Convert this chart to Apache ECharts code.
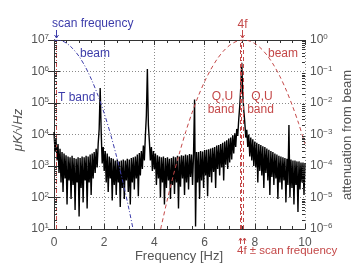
<!DOCTYPE html>
<html><head><meta charset="utf-8">
<script src="https://cdn.jsdelivr.net/npm/echarts@6/dist/echarts.min.js"></script>
<style>html,body{margin:0;padding:0;background:#fff}#c{width:360px;height:270px}</style>
</head><body><div id="c"></div>
<script>
// ---- data ----
const spectrumStartHz = 0;
const spectrumStepHz = 0.04;
const spectrumPsd = [
  12000, 3000, 7000, 1500, 5000, 600, 3500, 300, 2800, 150,
  2500, 400, 2200, 60, 2000, 350, 1900, 90, 2100, 250,
  1800, 40, 1700, 300, 1900, 25, 1800, 200, 2000, 70,
  1900, 350, 2100, 45, 2000, 300, 2300, 120, 2500, 400,
  2800, 600, 3500, 900, 5000, 15000, 300000, 12000, 1200, 4000,
  700, 3000, 300, 2500, 150, 2000, 400, 1800, 80, 1700,
  250, 1500, 120, 1600, 300, 1400, 50, 1500, 200, 1600,
  90, 1500, 350, 1700, 150, 1600, 60, 1800, 300, 1900,
  180, 2000, 400, 2300, 110, 2600, 500, 3000, 800, 4500,
  1500, 9000, 40000, 1200000, 20000, 6000, 1500, 4000, 700, 3000,
  800, 2500, 250, 2200, 400, 2000, 100, 1900, 300, 2000,
  60, 1800, 200, 1900, 350, 1700, 90, 1800, 250, 2000,
  130, 1900, 300, 2100, 45, 2000, 220, 2200, 400, 2100,
  120, 2300, 300, 2200, 180, 2400, 450, 2300, 250, 2500,
  130000, 12, 2800, 300, 2800, 90, 3000, 350, 2900, 200,
  3200, 500, 3300, 110, 3400, 450, 3600, 300, 3800, 650,
  4000, 200, 4500, 800, 4600, 500, 5000, 900, 5500, 350,
  6000, 1100, 6500, 800, 7500, 1300, 8000, 1600, 9500, 2500,
  11000, 4000, 15000, 9000, 30000, 80000, 300000, 1900000, 200000, 60000,
  25000, 8000, 14000, 4000, 10000, 2000, 8000, 1500, 7000, 1000,
  6000, 900, 5500, 300, 5000, 700, 4600, 500, 4200, 200,
  4000, 600, 3600, 350, 3300, 120, 3000, 450, 2800, 250,
  2500, 400, 2300, 90, 2100, 300, 2000, 180, 1900, 350,
  1800, 70, 1700, 250, 20000, 100, 1600, 200, 1500, 60,
  1500, 250, 1400, 35, 1400, 180, 1300, 300, 1300, 120, 1250
];
const beamTFreq  = [0, 0.25, 0.5, 0.75, 1.0, 1.25, 1.5, 1.75, 2.0, 2.25, 2.5, 2.75, 3.0, 3.25];
const beamTAtten = [0.985, 0.967, 0.79, 0.53, 0.30, 0.14, 0.054, 0.0175, 0.0047, 0.00104, 1.9e-4, 3.0e-5, 3.8e-6, 4.0e-7];
const beamQUFreq  = [4.25, 4.5, 4.75, 5.0, 5.25, 5.5, 5.75, 6.0, 6.25, 6.5, 6.75, 7.0, 7.25, 7.5, 7.75, 8.0, 8.25, 8.5, 8.75, 9.0, 9.25, 9.5, 9.75, 10.0];
const beamQUAtten = [1.0e-6, 7.6e-6, 4.9e-5, 2.6e-4, 1.23e-3, 4.9e-3, 0.0166, 0.048, 0.117, 0.248, 0.445, 0.682, 0.892, 0.997, 0.95, 0.774, 0.537, 0.319, 0.161, 0.0698, 0.0258, 0.0081, 0.0022, 5.0e-4];
const scanFreqHz = 0.07;
const fourFHz = 7.48;
const xTickLabels = ['0', '2', '4', '6', '8', '10'];

// ---- styling ----
const BLUE = '#3c3caa', RED = '#c44848', TXT = '#555', FRAME = '#333', GRID = '#8a8a8a';
const FONT = '"Liberation Sans", Arial, sans-serif';

const spectrumData = spectrumPsd.map((v, i) => [spectrumStartHz + i * spectrumStepHz, v]);
const beamTData = beamTFreq.map((f, i) => [f, beamTAtten[i]]);
const beamQUData = beamQUFreq.map((f, i) => [f, beamQUAtten[i]]);

// log minor tick positions (axis decoration)
const minorTickVals = [];
for (let e = 1; e < 7; e++) for (let k = 2; k <= 9; k++) minorTickVals.push([0, k * Math.pow(10, e)]);

const supRich = {
  b: { fontSize: 12, color: TXT, fontFamily: FONT, lineHeight: 14 },
  s: { fontSize: 8, color: TXT, fontFamily: FONT, lineHeight: 9, verticalAlign: 'top' }
};

const chart = echarts.init(document.getElementById('c'), null, { renderer: 'canvas' });
chart.setOption({
  animation: false,
  backgroundColor: '#fff',
  grid: { left: 54, right: 55, top: 40, bottom: 41, containLabel: false },
  xAxis: [{
    type: 'value', min: 0, max: 10, interval: 2, position: 'bottom',
    axisLine: { show: true, lineStyle: { color: FRAME, width: 1 } },
    axisTick: { show: true, inside: true, length: 5, lineStyle: { color: FRAME } },
    minorTick: { show: true, splitNumber: 4, length: 3, lineStyle: { color: FRAME } },
    axisLabel: { color: TXT, fontSize: 12, fontFamily: FONT, margin: 8,
      formatter: v => xTickLabels[Math.round(v / 2)] },
    splitLine: { show: true, lineStyle: { color: GRID, type: [1, 2], width: 1 } }
  }, {
    type: 'value', min: 0, max: 10, interval: 2, position: 'top',
    axisLine: { show: true, lineStyle: { color: FRAME, width: 1 } },
    axisTick: { show: true, inside: true, length: 5, lineStyle: { color: FRAME } },
    minorTick: { show: true, splitNumber: 4, length: 3, lineStyle: { color: FRAME } },
    axisLabel: { show: false }, splitLine: { show: false }
  }],
  yAxis: [{
    type: 'log', logBase: 10, min: 10, max: 1e7, splitNumber: 6, position: 'left',
    axisLine: { show: true, lineStyle: { color: FRAME, width: 1 } },
    axisTick: { show: true, inside: true, length: 6, lineStyle: { color: FRAME } },
    axisLabel: { margin: 5, formatter: v => '{b|10}{s|' + Math.round(Math.log10(v)) + '}', rich: supRich },
    splitLine: { show: true, lineStyle: { color: GRID, type: [1, 2], width: 1 } }
  }, {
    type: 'log', logBase: 10, min: 1e-6, max: 1, splitNumber: 6, position: 'right',
    axisLine: { show: true, lineStyle: { color: FRAME, width: 1 } },
    axisTick: { show: true, inside: true, length: 6, lineStyle: { color: FRAME } },
    axisLabel: { margin: 5, formatter: v => {
      const e = Math.round(Math.log10(v));
      return '{b|10}{s|' + (e < 0 ? '\u2212' + (-e) : e) + '}';
    }, rich: supRich },
    splitLine: { show: false }
  }],
  series: [{
    type: 'custom', xAxisIndex: 0, yAxisIndex: 0, silent: true, z: 5,
    data: minorTickVals,
    renderItem: (params, api) => {
      const v = api.value(1);
      const pL = api.coord([0, v]), pR = api.coord([10, v]);
      const y = Math.round(pL[1]) + 0.5;
      return { type: 'group', children: [
        { type: 'line', shape: { x1: pL[0], y1: y, x2: pL[0] + 3, y2: y }, style: { stroke: FRAME, lineWidth: 1 } },
        { type: 'line', shape: { x1: pR[0] - 3, y1: y, x2: pR[0], y2: y }, style: { stroke: FRAME, lineWidth: 1 } }
      ] };
    }
  }, {
    name: 'spectrum', type: 'line', xAxisIndex: 0, yAxisIndex: 0, data: spectrumData,
    symbol: 'none', lineStyle: { color: '#000', width: 1.4 }, z: 2, clip: true,
    markLine: {
      silent: true, symbol: ['none', 'none'], label: { show: false },
      data: [
        { xAxis: scanFreqHz, lineStyle: { color: RED, type: [4, 2, 1, 2], width: 1 } },
        { xAxis: fourFHz, lineStyle: { color: RED, type: [4, 2, 1, 2], width: 1 } },
        { xAxis: fourFHz - scanFreqHz, lineStyle: { color: RED, type: [4, 3], width: 1 } },
        { xAxis: fourFHz + scanFreqHz, lineStyle: { color: RED, type: [4, 3], width: 1 } }
      ]
    }
  }, {
    name: 'beamT', type: 'line', xAxisIndex: 0, yAxisIndex: 1, data: beamTData, smooth: 0.3,
    symbol: 'none', lineStyle: { color: BLUE, width: 1, type: [4, 2, 1, 2] }, z: 3, clip: true
  }, {
    name: 'beamQU', type: 'line', xAxisIndex: 0, yAxisIndex: 1, data: beamQUData, smooth: 0.3,
    symbol: 'none', lineStyle: { color: RED, width: 1, type: [4, 3] }, z: 3, clip: true
  }]
});

const px = f => chart.convertToPixel({ xAxisIndex: 0 }, f);
const xs = Math.round(px(scanFreqHz)) + 0.5;
const x4 = Math.round(px(fourFHz)) + 0.5;
const xm = Math.round(px(fourFHz - scanFreqHz)) + 0.5;
const xp = Math.round(px(fourFHz + scanFreqHz)) + 0.5;
const t = (text, x, y, color, align, size) => ({ type: 'text', x: x, y: y, silent: true,
  style: { text: text, fill: color, font: (size || 12) + 'px ' + FONT, align: align || 'left', verticalAlign: 'middle' } });
const arrowDown = (x, y1, y2, c) => [
  { type: 'line', shape: { x1: x, y1: y1, x2: x, y2: y2 }, style: { stroke: c, lineWidth: 1 } },
  { type: 'polyline', shape: { points: [[x - 2, y2 - 3], [x, y2], [x + 2, y2 - 3]] }, style: { stroke: c, fill: null, lineWidth: 1 } }
];
const arrowUp = (x, y1, y2, c) => [
  { type: 'line', shape: { x1: x, y1: y1, x2: x, y2: y2 }, style: { stroke: c, lineWidth: 1 } },
  { type: 'polyline', shape: { points: [[x - 1.5, y2 + 2.5], [x, y2], [x + 1.5, y2 + 2.5]] }, style: { stroke: c, fill: null, lineWidth: 1 } }
];
chart.setOption({ graphic: [].concat(
  [t('scan frequency', 52, 24, BLUE)],
  arrowDown(xs, 30, 38, BLUE),
  [t('beam', 80, 54, BLUE), t('T band', 58, 97.5, BLUE)],
  [t('4f', x4, 25, RED, 'center')],
  arrowDown(x4, 30, 38, RED),
  [t('beam', 268, 54, RED),
   t('Q,U', 222.5, 97, RED, 'center'), t('band', 221, 110, RED, 'center'),
   t('Q,U', 262, 97, RED, 'center'), t('band', 260.5, 110, RED, 'center')],
  arrowUp(xm, 244, 238, RED), arrowUp(xp, 244, 238, RED),
  [t('4f \u00b1 scan frequency', 237, 251, RED, 'left', 11.5)],
  [t('Frequency [Hz]', 179, 256, TXT, 'center', 13)],
  [{ type: 'text', x: 18, y: 130, rotation: Math.PI / 2, silent: true,
     style: { text: '\u03bcK/\u221aHz', fill: TXT, font: 'italic 13px ' + FONT, align: 'center', verticalAlign: 'middle' } },
   { type: 'text', x: 347, y: 135, rotation: Math.PI / 2, silent: true,
     style: { text: 'attenuation from beam', fill: TXT, font: '13px ' + FONT, align: 'center', verticalAlign: 'middle' } }]
) });
</script></body></html>
